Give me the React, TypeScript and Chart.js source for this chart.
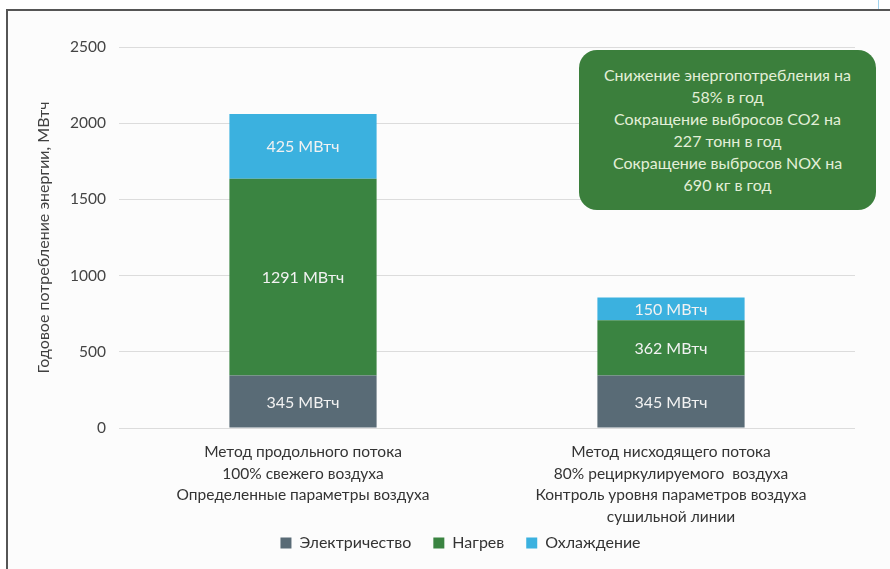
import React, { useEffect, useRef } from "react";
import { Chart, registerables } from "chart.js";
Chart.register(...registerables);

const categories: string[][] = [
  ["Метод продольного потока", "100% свежего воздуха", "Определенные параметры воздуха"],
  ["Метод нисходящего потока", "80% рециркулируемого  воздуха", "Контроль уровня параметров воздуха", "сушильной линии"],
];
const seriesNames = ["Электричество", "Нагрев", "Охлаждение"];
const electricity = [345, 345];
const heating = [1291, 362];
const cooling = [425, 150];
const unit = "МВтч";
const yTitle = "Годовое потребление энергии, МВтч";
const noteLines = [
  "Снижение энергопотребления на",
  "58% в год",
  "Сокращение выбросов СО2 на",
  "227 тонн в год",
  "Сокращение выбросов NOX на",
  "690 кг в год",
];

const FONT = "Lato, Carlito, Calibri, 'Open Sans', sans-serif";

const labelPlugin = {
  id: "segLabels",
  afterLayout(chart: any) {
    if (chart.legend) {
      chart.legend.left += 18;
      chart.legend.right += 18;
    }
    const x = chart.scales.x;
    if (x) {
      // let the multi-line category labels extend below the axis box (avoid clipping)
      x.bottom += 30;
      x.height += 30;
    }
  },
  afterDatasetsDraw(chart: any) {
    const ctx = chart.ctx;
    ctx.save();
    ctx.font = `16px ${FONT}`;
    ctx.fillStyle = "#f2f2f2";
    ctx.textAlign = "center";
    ctx.textBaseline = "middle";
    chart.data.datasets.forEach((ds: any, i: number) => {
      const meta = chart.getDatasetMeta(i);
      meta.data.forEach((el: any, j: number) => {
        const v = ds.data[j];
        ctx.fillText(`${v} ${unit}`, el.x, (el.y + el.base) / 2 + 1);
      });
    });
    ctx.restore();
  },
};

export default function App() {
  const ref = useRef<HTMLCanvasElement>(null);
  useEffect(() => {
    document.body.style.margin = "0";
    const chart = new Chart(ref.current!, {
      type: "bar",
      data: {
        labels: categories,
        datasets: [
          { label: seriesNames[0], data: electricity, backgroundColor: "#596b76" },
          { label: seriesNames[1], data: heating, backgroundColor: "#3a8441" },
          { label: seriesNames[2], data: cooling, backgroundColor: "#3bb1df" },
        ],
      },
      options: {
        animation: false,
        responsive: false,
        maintainAspectRatio: false,
        layout: { padding: { left: 22, right: 35, top: 36, bottom: 8 } },
        datasets: { bar: { barPercentage: 0.4, categoryPercentage: 1 } },
        scales: {
          x: {
            stacked: true,
            grid: { display: false, drawTicks: false },
            border: { display: false },
            ticks: {
              color: "#333",
              font: { family: FONT, size: 15.5, lineHeight: 1.4 },
              padding: 13,
              maxRotation: 0,
              autoSkip: false,
            },
            afterFit: (s: any) => {
              s.height = 85;
            },
          },
          y: {
            stacked: true,
            min: 0,
            max: 2500,
            grid: { color: "#dcdcdc", drawTicks: false },
            border: { display: false },
            ticks: {
              stepSize: 500,
              color: "#444",
              font: { family: FONT, size: 15.5 },
              padding: 13,
              callback: (v: any) => String(v),
            },
            title: {
              display: true,
              text: yTitle,
              color: "#404040",
              font: { family: FONT, size: 16 },
              padding: { top: 4, bottom: 4 },
            },
            afterFit: (s: any) => {
              s.width = 89;
            },
          },
        },
        plugins: {
          legend: {
            position: "bottom",
            labels: { color: "#333", font: { family: FONT, size: 16 }, boxWidth: 11, boxHeight: 11, padding: 22 },
          },
          tooltip: { enabled: false },
        },
      },
      plugins: [labelPlugin],
    });
    return () => chart.destroy();
  }, []);

  return (
    <div style={{ position: "relative", width: 890, height: 569, background: "#fff", overflow: "hidden" }}>
      <div style={{ position: "absolute", left: 878, top: 0, width: 1, height: 10, background: "#9fd3ee" }} />
      <div
        style={{
          position: "absolute",
          left: 6,
          top: 9,
          width: 884,
          height: 560,
          borderTop: "2px solid #555",
          borderLeft: "2px solid #555",
          background: "#fcfcfc",
        }}
      >
        <canvas ref={ref} width={882} height={558} style={{ display: "block", width: 882, height: 558 }} />
      </div>
      <div
        style={{
          position: "absolute",
          left: 579,
          top: 50,
          width: 297,
          height: 160,
          borderRadius: 18,
          background: "#3b7f3c",
          color: "#e3efd8",
          fontFamily: FONT,
          fontSize: 16,
          lineHeight: "22px",
          textAlign: "center",
          display: "flex",
          flexDirection: "column",
          justifyContent: "center",
        }}
      >
        {noteLines.map((l, i) => (
          <div key={i}>{l}</div>
        ))}
      </div>
    </div>
  );
}
